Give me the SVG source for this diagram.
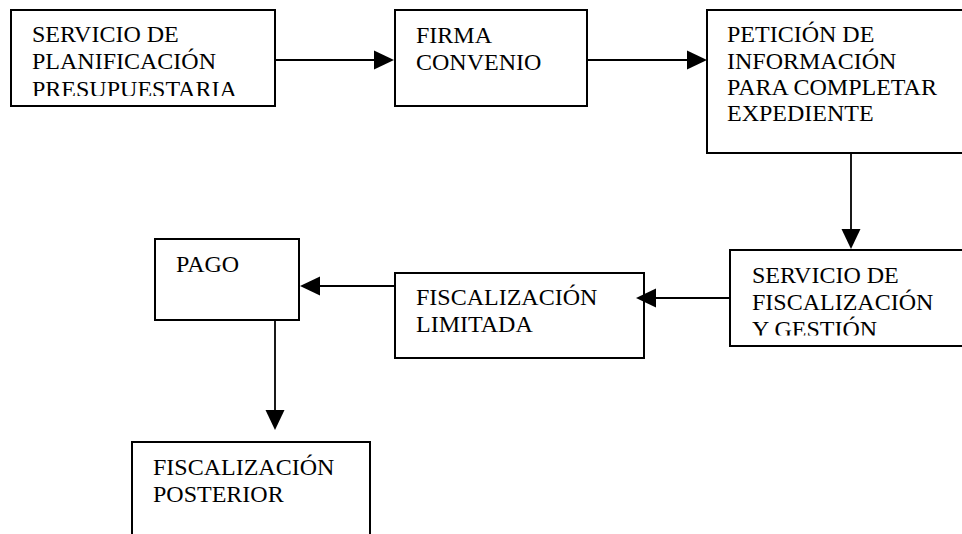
<svg xmlns="http://www.w3.org/2000/svg" width="962" height="534" viewBox="0 0 962 534">
<style>
.box{fill:#fff;stroke:#000;stroke-width:2}
.lbl{font-family:"Liberation Serif","Times New Roman",serif;font-size:24px;fill:#000}
.con{stroke:#000;stroke-width:1.8;fill:none}
.ah{fill:#000;stroke:none}
</style>
<defs>
<clipPath id="c1"><rect x="12" y="11" width="262" height="85"/></clipPath>
<clipPath id="c5"><rect x="731" y="251" width="240" height="84.5"/></clipPath>
</defs>
<rect width="962" height="534" fill="#fff"/>
<g id="n1">
<rect class="box" x="11" y="10" width="264" height="96"/>
<text class="lbl" clip-path="url(#c1)"><tspan x="32" y="42">SERVICIO DE</tspan><tspan x="32" y="68.5">PLANIFICACIÓN</tspan><tspan x="32" y="97">PRESUPUESTARIA</tspan></text>
</g>
<g id="n2">
<rect class="box" x="395" y="10" width="192" height="96"/>
<text class="lbl"><tspan x="416" y="43">FIRMA</tspan><tspan x="416" y="70">CONVENIO</tspan></text>
</g>
<g id="n3">
<rect class="box" x="707" y="10" width="260" height="143"/>
<text class="lbl"><tspan x="727" y="42">PETICIÓN DE</tspan><tspan x="727" y="68.5">INFORMACIÓN</tspan><tspan x="727" y="95">PARA COMPLETAR</tspan><tspan x="727" y="121">EXPEDIENTE</tspan></text>
</g>
<g id="n4">
<rect class="box" x="395" y="273" width="249" height="85"/>
<text class="lbl"><tspan x="416" y="305">FISCALIZACIÓN</tspan><tspan x="416" y="332">LIMITADA</tspan></text>
</g>
<g id="n5">
<rect class="box" x="730" y="250" width="240" height="96"/>
<text class="lbl" clip-path="url(#c5)"><tspan x="752" y="283">SERVICIO DE</tspan><tspan x="752" y="310">FISCALIZACIÓN</tspan><tspan x="752" y="337">Y GESTIÓN</tspan></text>
</g>
<g id="n6">
<rect class="box" x="155" y="239" width="144" height="81"/>
<text class="lbl"><tspan x="176" y="272">PAGO</tspan></text>
</g>
<g id="n7">
<rect class="box" x="132" y="442" width="238" height="100"/>
<text class="lbl"><tspan x="153" y="475">FISCALIZACIÓN</tspan><tspan x="153" y="502">POSTERIOR</tspan></text>
</g>
<g id="connectors">
<line class="con" x1="275" y1="60" x2="375" y2="60"/>
<polygon class="ah" points="394,60 374,50.5 374,69.5"/>
<line class="con" x1="587" y1="60" x2="688" y2="60"/>
<polygon class="ah" points="707,60 687,50.5 687,69.5"/>
<line class="con" x1="851" y1="153" x2="851" y2="230"/>
<polygon class="ah" points="851,249 841.5,229 860.5,229"/>
<line class="con" x1="730" y1="298" x2="655" y2="298"/>
<polygon class="ah" points="636,298 656,288.5 656,307.5"/>
<line class="con" x1="395" y1="286" x2="319" y2="286"/>
<polygon class="ah" points="300,286 320,276.5 320,295.5"/>
<line class="con" x1="275" y1="320" x2="275" y2="411"/>
<polygon class="ah" points="275,430 265.5,410 284.5,410"/>
</g>
</svg>
